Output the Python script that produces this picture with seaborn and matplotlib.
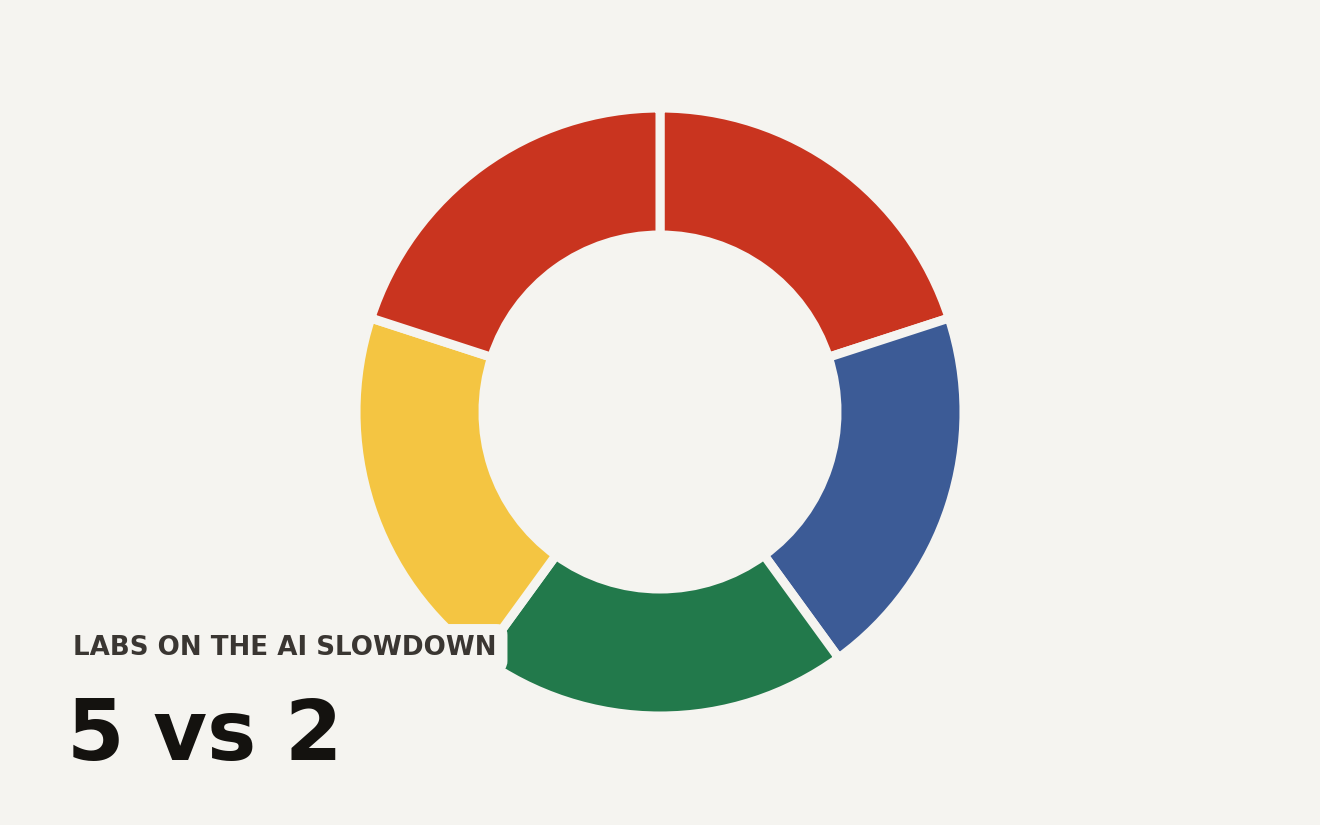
import matplotlib.pyplot as plt
import seaborn as sns

# segments, clockwise from 12 o'clock
labs = ["Lab 1", "Lab 2", "Lab 3", "Lab 4", "Lab 5"]
shares = [1, 1, 1, 1, 1]
colors = ["#C9341F", "#3C5B96", "#22794B", "#F4C542", "#C9341F"]

kicker = "LABS ON THE AI SLOWDOWN"
headline = "5 vs 2"

bg = "#F5F4F0"

sns.set_theme(style="white")
plt.rcParams['font.family'] = ['DejaVu Sans']

fig = plt.figure(figsize=(13.2, 8.25), dpi=100)
fig.patch.set_facecolor(bg)
ax = fig.add_axes([0, 0, 1, 1])
ax.set_facecolor(bg)

ax.pie(shares, colors=colors, startangle=90, counterclock=False,
       center=(660, 413), radius=304,
       wedgeprops=dict(width=127, edgecolor=bg, linewidth=6.5))
ax.set_xlim(0, 1320)
ax.set_ylim(0, 825)
ax.set_aspect('equal')
ax.axis('off')

ax.text(73, 170, kicker, fontsize=18.8, fontweight='bold', color='#3A3632',
        va='baseline', ha='left', zorder=5,
        bbox=dict(boxstyle='round,pad=0.42', facecolor=bg, edgecolor='none'))
ax.text(67, 65, headline, fontsize=59.5, fontweight='bold', color='#14120F',
        va='baseline', ha='left', zorder=5)

fig.savefig("out.png", dpi=100, facecolor=bg)
